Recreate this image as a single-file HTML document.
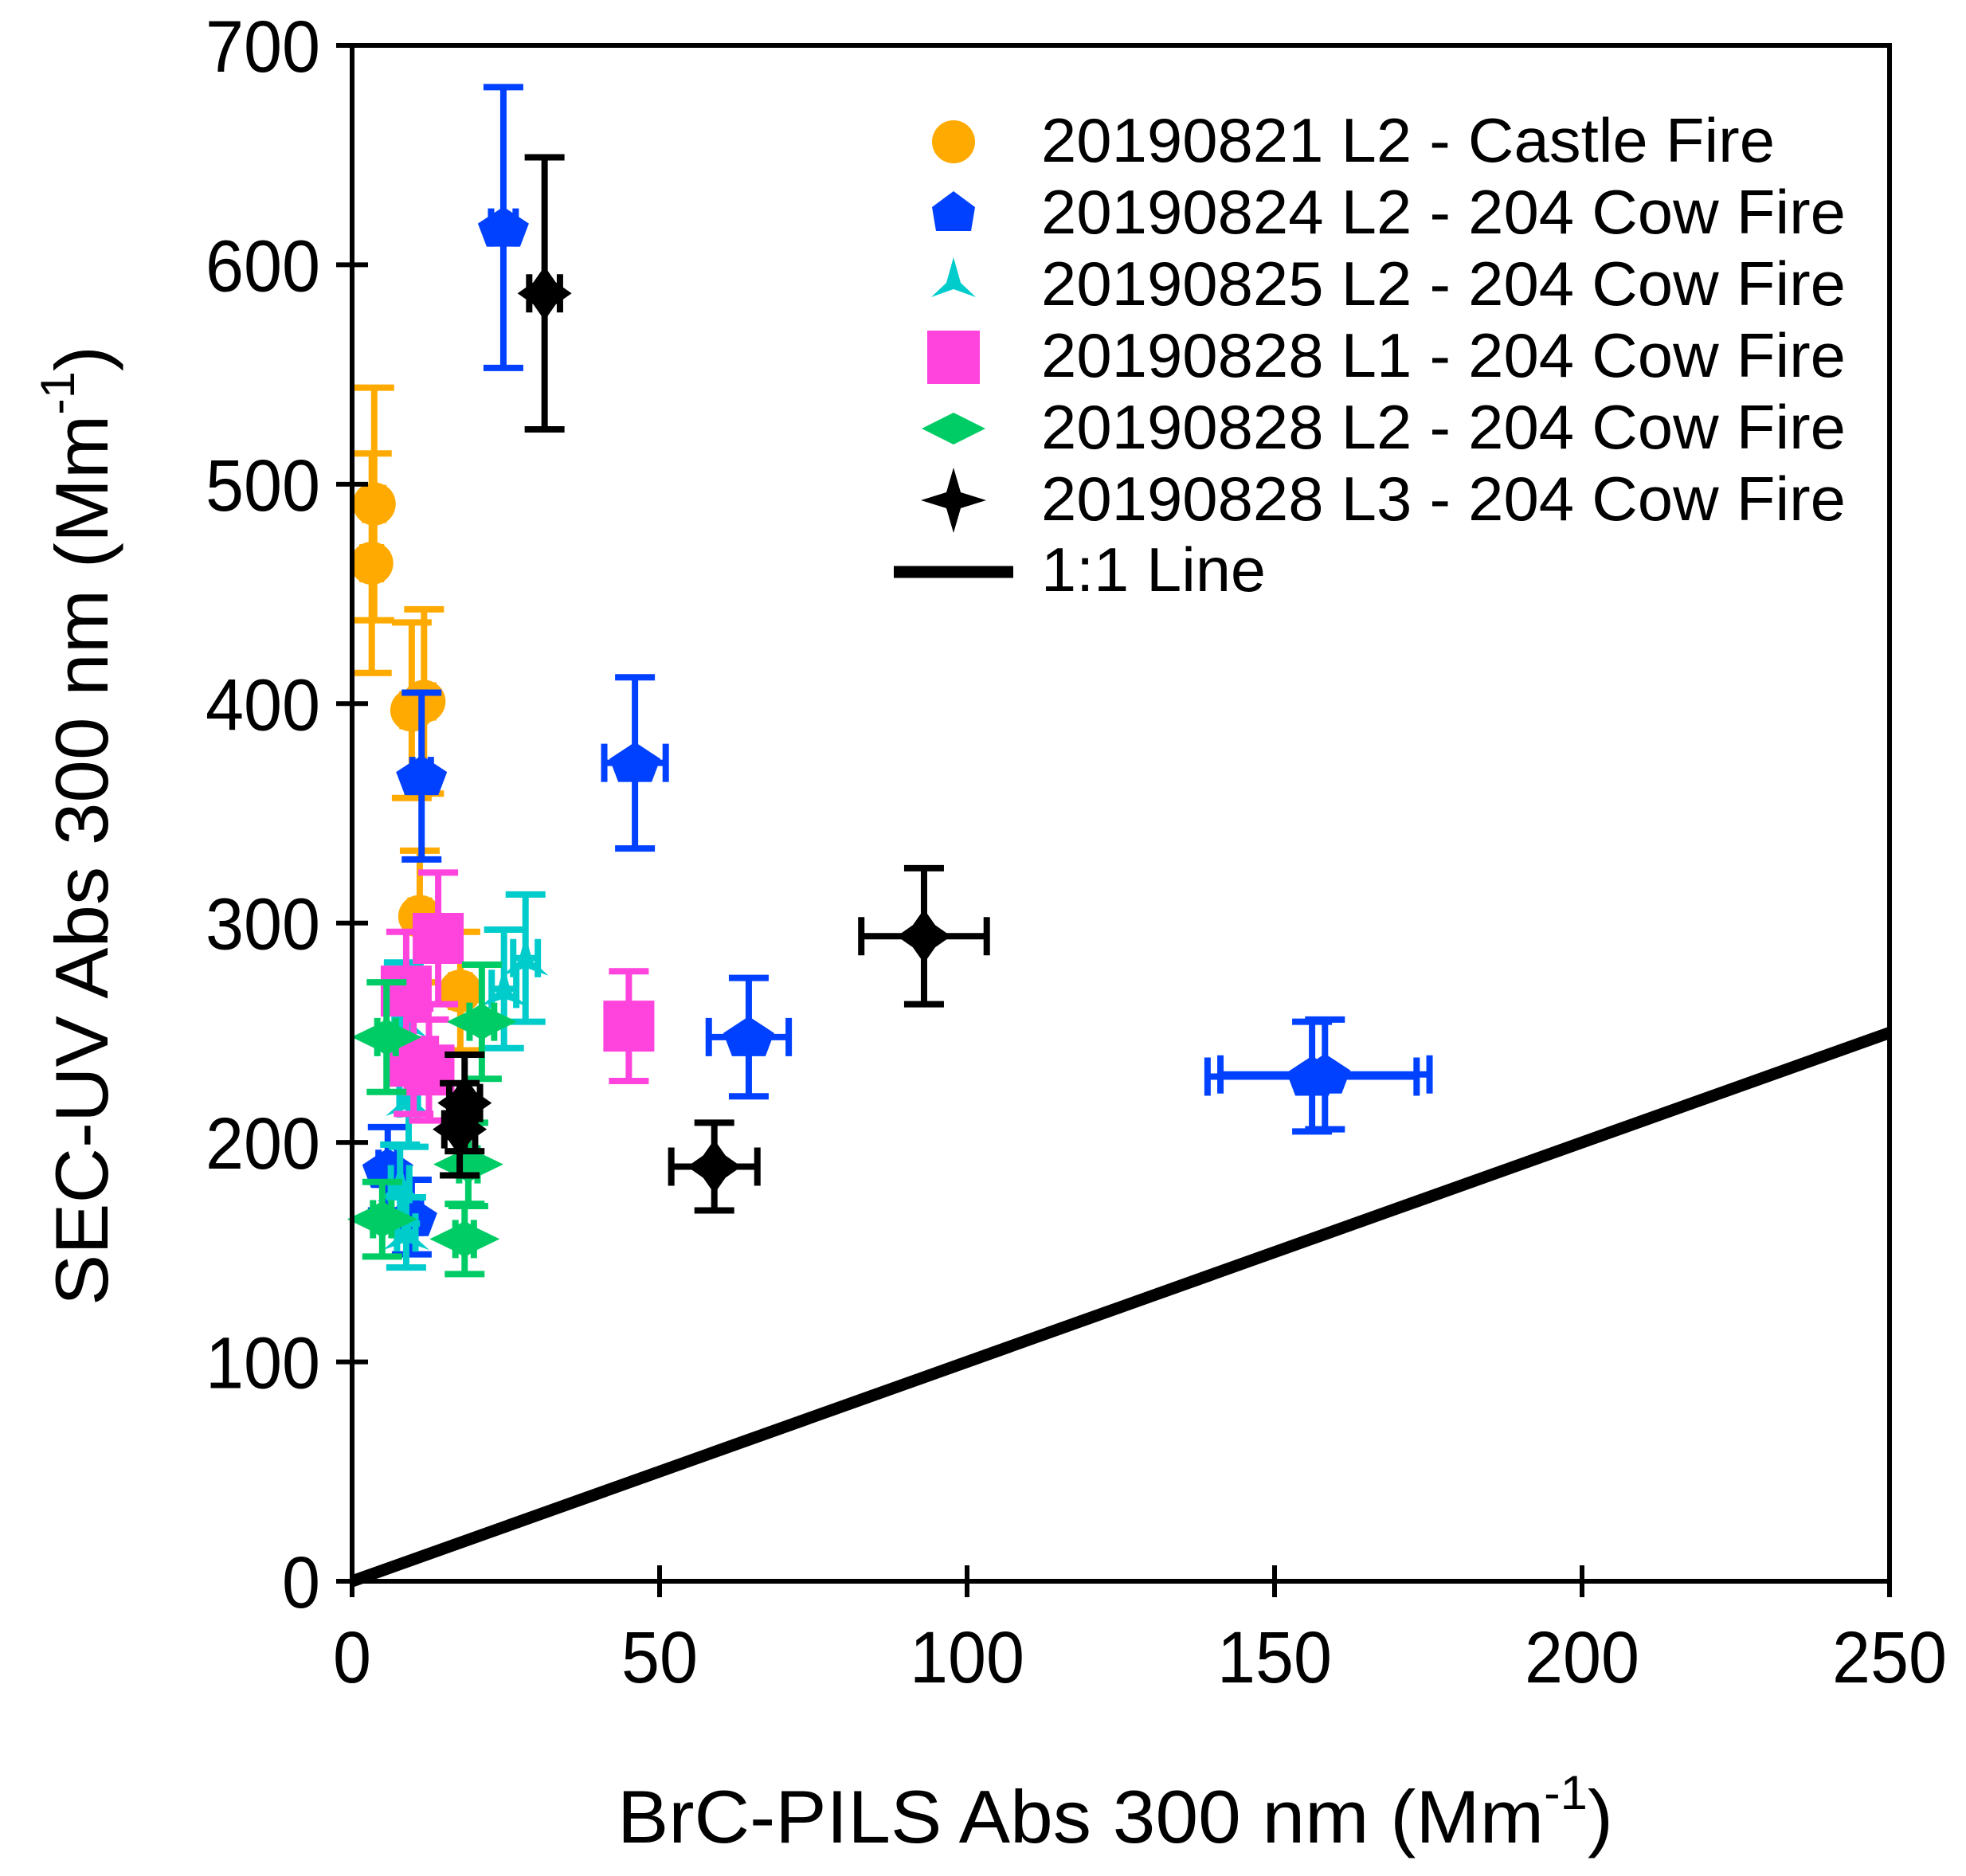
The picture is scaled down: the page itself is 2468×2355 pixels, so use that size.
<!DOCTYPE html>
<html><head><meta charset="utf-8"><style>
html,body{margin:0;padding:0;background:#fff;}
svg{display:block;}
text{font-family:"Liberation Sans",Arial,sans-serif;fill:#000;}
</style></head><body>
<svg id="chart" width="2468" height="2355" viewBox="0 0 2468 2355" xmlns="http://www.w3.org/2000/svg">
<g id="plot"></g>
</svg>
<script>
const xTicks=[0,50,100,150,200,250];
const yTicks=[0,100,200,300,400,500,600,700];
const xTickLabels=["0","50","100","150","200","250"];
const yTickLabels=["0","100","200","300","400","500","600","700"];

const castleX=[3.6,3.2,9.7,11.7,11.0,17.6];
const castleY=[491,464,397,401,303,269];
const castleXe=[1.5,1.5,1.5,1.5,1.5,1.5];
const castleYe=[53,50,40,42,30,27];

const cow824X=[24.6,11.3,46,64.5,156.1,158.2,5.8,9.7];
const cow824Y=[617,367,373,248,230,231,188,166];
const cow824Xe=[2,1.5,5,6.5,17,17,1.5,1.5];
const cow824Ye=[64,38,39,27,25,25,19,17];

const cow825X=[28.2,24.7,9.2,8.4,7.8,8.8];
const cow825Y=[284,270,220,256,181,159];
const cow825Xe=[2,2,1.5,1.5,1.5,1.5];
const cow825Ye=[29,27,22,26,18,16];

const cow828L1X=[14.0,8.8,10,12.5,45];
const cow828L1Y=[293,269,237,233,253];
const cow828L1Xe=[1.5,1.5,1.5,1.5,2.5];
const cow828L1Ye=[30,27,24,23,25];

const cow828L2X=[5.6,21.1,4.9,18.3,18.9];
const cow828L2Y=[248,255,165,156,190];
const cow828L2Xe=[1.5,2,1.5,1.5,1.5];
const cow828L2Ye=[25,26,17,16,19];

const cow828L3X=[31.3,93,58.9,18.3,17.5];
const cow828L3Y=[587,294,189,218,206];
const cow828L3Xe=[2.5,10.2,7,2.5,2.5];
const cow828L3Ye=[62,31,20,22,21];

const oneToOne=[0,250];

const L=442,R=2372,T=57,B=1985;
const xS=v=>L+(v-0)/(250-0)*(R-L);
const yS=v=>B-(v-0)/(700-0)*(B-T);
const NS="http://www.w3.org/2000/svg";
const plot=document.getElementById('plot');
function mk(tag,attrs,parent){const e=document.createElementNS(NS,tag);for(const k in attrs)e.setAttribute(k,attrs[k]);(parent||plot).appendChild(e);return e;}

const shapes={
 circle:'M-27,0 A27,27 0 1 0 27,0 A27,27 0 1 0 -27,0 Z',
 pentagon:'M0,-26 L32,-5 L21,24 L-21,24 L-32,-5 Z',
 tri:'M0,-28 L9,4 L29,22 L0,12 L-29,22 L-9,4 Z',
 square:'M-32,-32 L32,-32 L32,32 L-32,32 Z',
 diamond:'M-44,0 L-13,-15 L0,-23 L13,-15 L44,0 L13,15 L0,23 L-13,15 Z',
 star:'M0,-34 L14,-14 L34,0 L14,14 L0,34 L-14,14 L-34,0 L-14,-14 Z'
};

const ln=mk('line',{x1:xS(oneToOne[0]),y1:yS(oneToOne[0]),x2:xS(oneToOne[1]),y2:yS(oneToOne[1]),stroke:'#000','stroke-width':15});



const series=[
 {n:'castle-fire',c:'#FFAA00',s:'circle',x:castleX,y:castleY,xe:castleXe,ye:castleYe},
 {n:'cow-fire-0824-l2',c:'#0040FF',s:'pentagon',x:cow824X,y:cow824Y,xe:cow824Xe,ye:cow824Ye},
 {n:'cow-fire-0825-l2',c:'#00CCCC',s:'tri',x:cow825X,y:cow825Y,xe:cow825Xe,ye:cow825Ye},
 {n:'cow-fire-0828-l1',c:'#FF44DD',s:'square',x:cow828L1X,y:cow828L1Y,xe:cow828L1Xe,ye:cow828L1Ye},
 {n:'cow-fire-0828-l2',c:'#00CC66',s:'diamond',x:cow828L2X,y:cow828L2Y,xe:cow828L2Xe,ye:cow828L2Ye},
 {n:'cow-fire-0828-l3',c:'#000000',s:'star',x:cow828L3X,y:cow828L3Y,xe:cow828L3Xe,ye:cow828L3Ye}
];
series.forEach(sr=>{
 const g=mk('g',{});
 
 
 sr.x.forEach((xv,i)=>{
  const cx=xS(xv),cy=yS(sr.y[i]);
  const x1=xS(xv-sr.xe[i]),x2=xS(xv+sr.xe[i]);
  const y1=yS(sr.y[i]+sr.ye[i]),y2=yS(sr.y[i]-sr.ye[i]);
  const eb=mk('path',{d:`M${cx},${y1}V${y2}M${cx-25},${y1}H${cx+25}M${cx-25},${y2}H${cx+25}M${x1},${cy}H${x2}M${x1},${cy-24}V${cy+24}M${x2},${cy-24}V${cy+24}`,stroke:sr.c,'stroke-width':8,fill:'none'},g);
  
  
 });
 sr.x.forEach((xv,i)=>{
  const p=mk('path',{d:shapes[sr.s],fill:sr.c,transform:`translate(${xS(xv)},${yS(sr.y[i])})`},g);
  
  
 });
});

const fr=mk('rect',{x:L,y:T,width:R-L,height:B-T,fill:'none',stroke:'#000','stroke-width':6});



xTicks.forEach((v,i)=>{
 const t=mk('line',{x1:xS(v),x2:xS(v),y1:B-20,y2:B+20,stroke:'#000','stroke-width':6});
 
 
 const lb=mk('text',{x:xS(v),y:2112,'text-anchor':'middle','font-size':92,textLength:xTickLabels[i].length*48,lengthAdjust:'spacingAndGlyphs'});
 lb.textContent=xTickLabels[i];
 
 
});
yTicks.forEach((v,i)=>{
 const t=mk('line',{x1:L-20,x2:L+20,y1:yS(v),y2:yS(v),stroke:'#000','stroke-width':6});
 
 
 const lb=mk('text',{x:402,y:yS(v)+33,'text-anchor':'end','font-size':92,textLength:yTickLabels[i].length*48,lengthAdjust:'spacingAndGlyphs'});
 lb.textContent=yTickLabels[i];
 
 
});
</script>
<svg style="position:absolute;left:0;top:0" width="2468" height="2355" viewBox="0 0 2468 2355" xmlns="http://www.w3.org/2000/svg">
<text x="775" y="2313" font-size="94" textLength="1250" lengthAdjust="spacingAndGlyphs">BrC-PILS Abs 300 nm (Mm<tspan font-size="60" dy="-42">-1</tspan><tspan dy="42">)</tspan></text>
<text transform="translate(135,1639) rotate(-90)" x="0" y="0" font-size="94" textLength="1205" lengthAdjust="spacingAndGlyphs">SEC-UV Abs 300 nm (Mm<tspan font-size="60" dy="-42">-1</tspan><tspan dy="42">)</tspan></text>
<g>
<path d="M-27,0 A27,27 0 1 0 27,0 A27,27 0 1 0 -27,0 Z" fill="#FFAA00" transform="translate(1197,178)"/>
<path d="M0,-26 L27,-6 L22,24 L-22,24 L-27,-6 Z" fill="#0040FF" transform="translate(1197,266)"/>
<path d="M0,-28 L9,4 L28,22 L0,12 L-28,22 L-9,4 Z" fill="#00CCCC" transform="translate(1197,351)"/>
<rect x="1164" y="415" width="66" height="67" fill="#FF44DD"/>
<path d="M-40,0 L0,-20 L40,0 L0,20 Z" fill="#00CC66" transform="translate(1197,538)"/>
<path d="M0,-41 L9,-10 L41,0 L9,10 L0,41 L-9,10 L-41,0 L-9,-10 Z" fill="#000" transform="translate(1197,628)"/>
<line x1="1122" y1="718" x2="1272" y2="718" stroke="#000" stroke-width="15"/>
<text x="1307" y="203" font-size="78" textLength="921" lengthAdjust="spacingAndGlyphs">20190821 L2 - Castle Fire</text>
<text x="1307" y="293" font-size="78" textLength="1010" lengthAdjust="spacingAndGlyphs">20190824 L2 - 204 Cow Fire</text>
<text x="1307" y="383" font-size="78" textLength="1010" lengthAdjust="spacingAndGlyphs">20190825 L2 - 204 Cow Fire</text>
<text x="1307" y="473" font-size="78" textLength="1010" lengthAdjust="spacingAndGlyphs">20190828 L1 - 204 Cow Fire</text>
<text x="1307" y="563" font-size="78" textLength="1010" lengthAdjust="spacingAndGlyphs">20190828 L2 - 204 Cow Fire</text>
<text x="1307" y="653" font-size="78" textLength="1010" lengthAdjust="spacingAndGlyphs">20190828 L3 - 204 Cow Fire</text>
<text x="1307" y="742" font-size="78" textLength="282" lengthAdjust="spacingAndGlyphs">1:1 Line</text>
</g>
</svg>
</body></html>
